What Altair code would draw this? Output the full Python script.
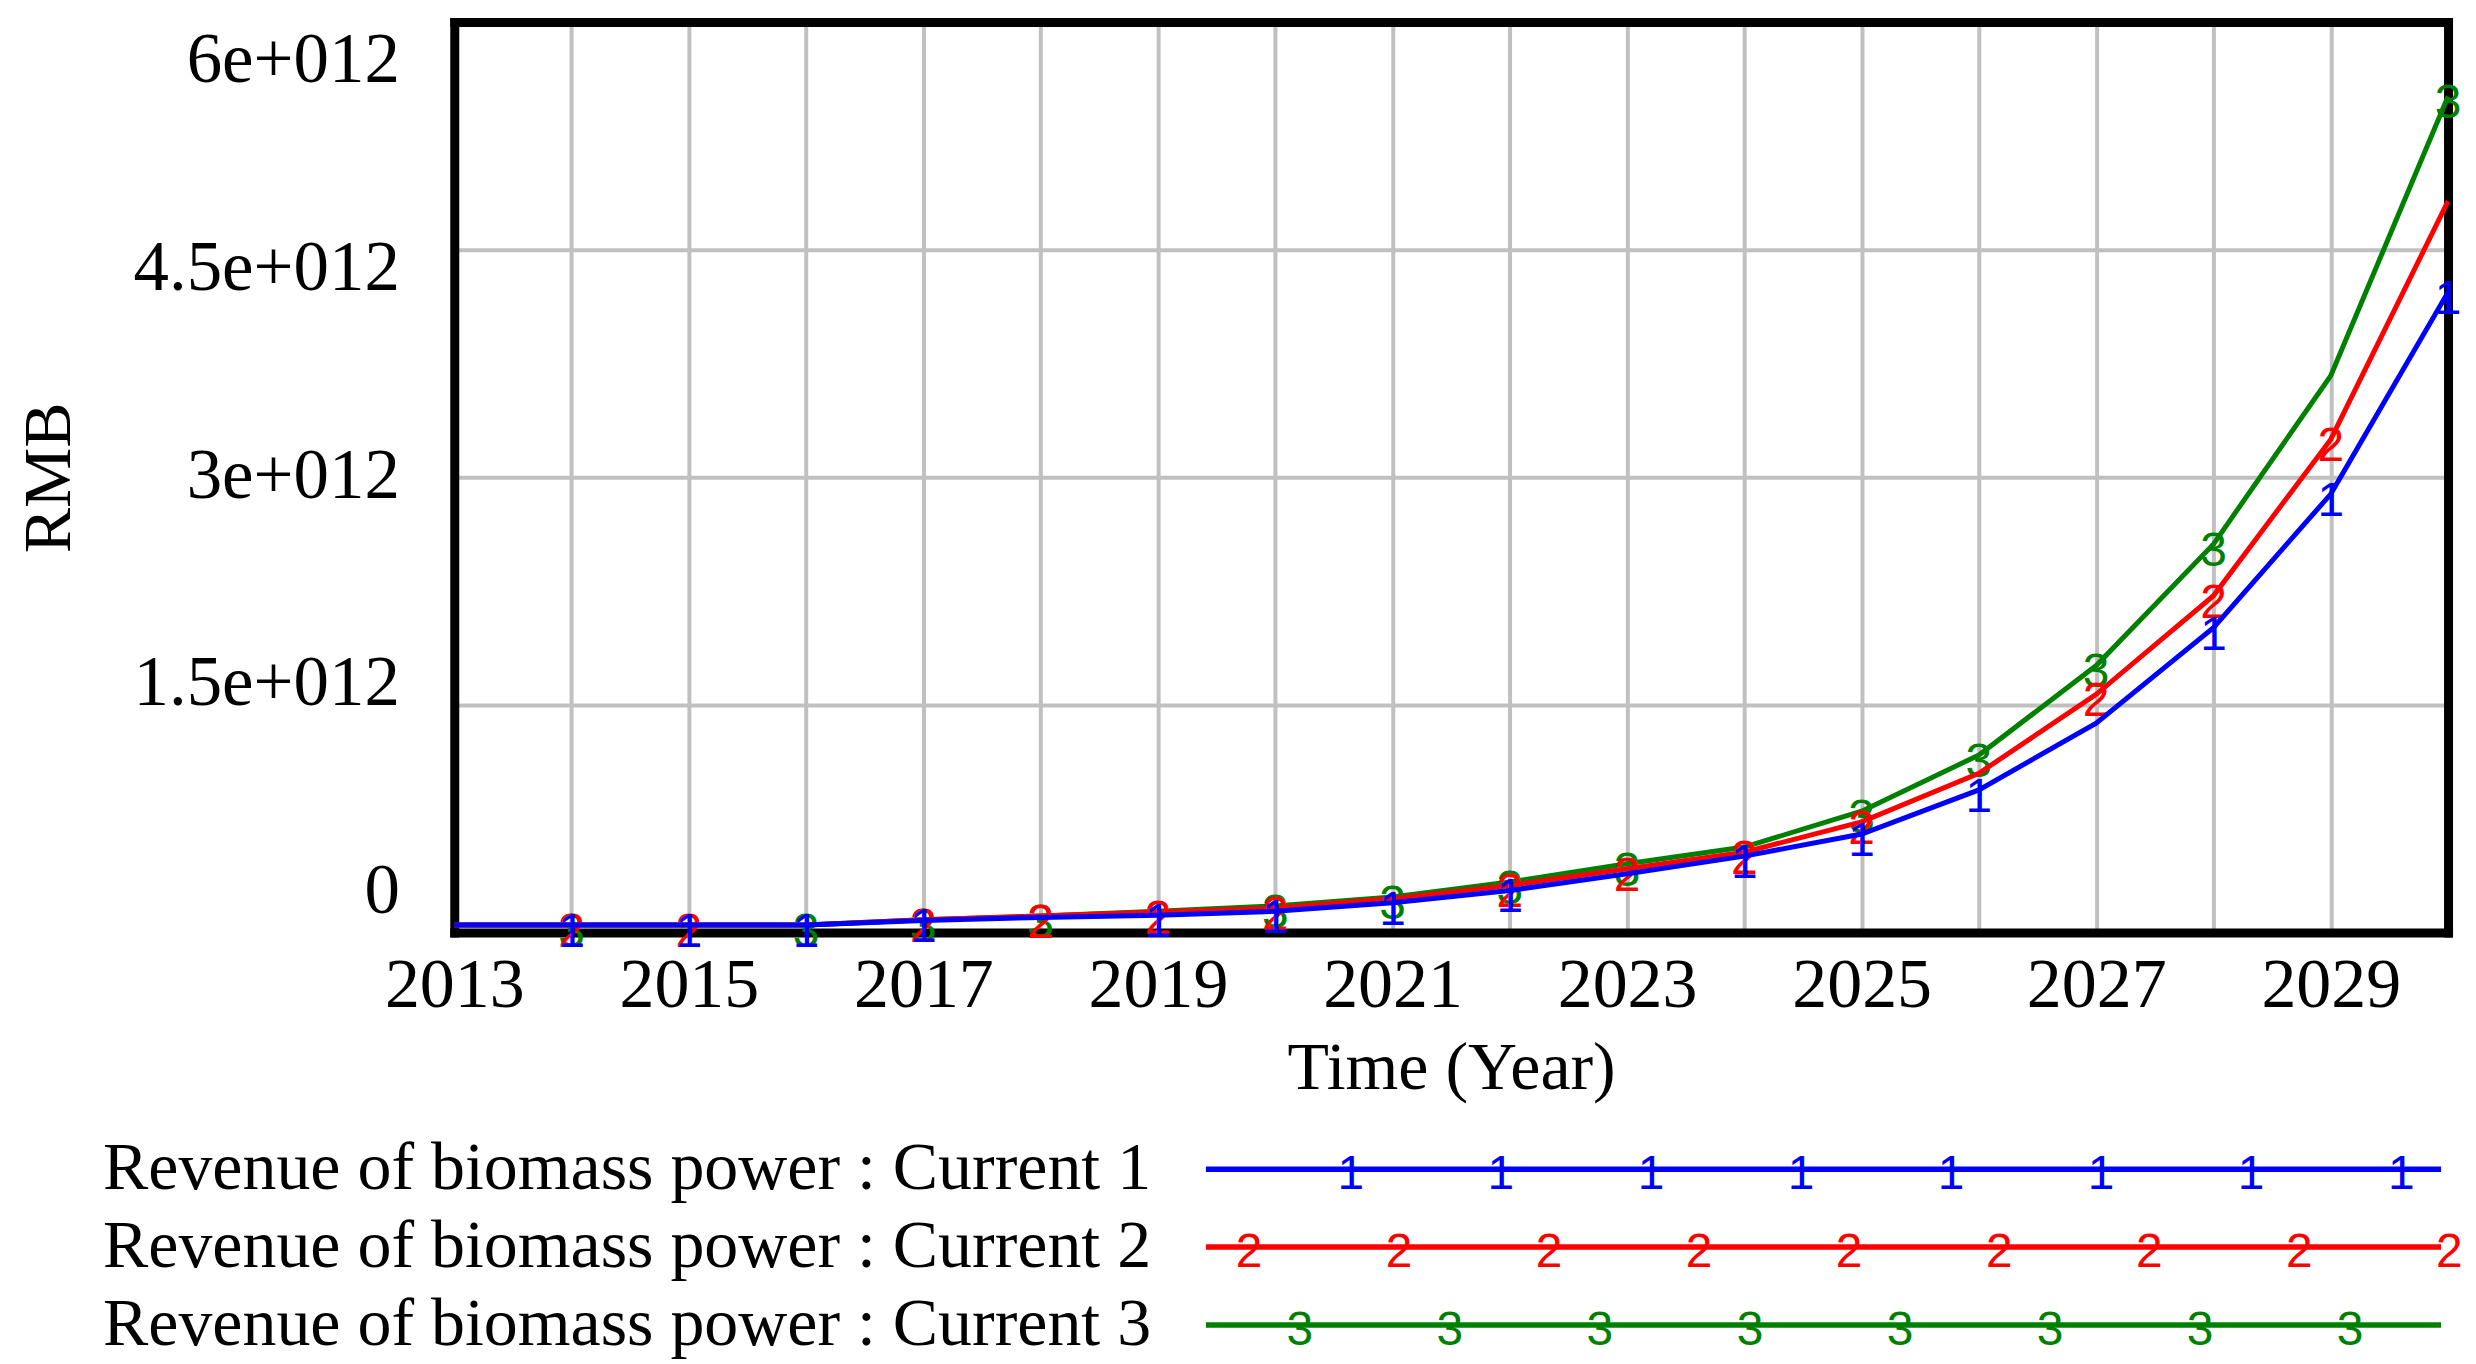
import json
import altair as alt
import pandas as pd

# ---------------- data (values in units of 1e12 RMB) ----------------
years = list(range(2013, 2031))
current1 = [0.05, 0.05, 0.05, 0.05, 0.08, 0.10, 0.115, 0.14, 0.197, 0.278, 0.388, 0.504, 0.65, 0.94, 1.38, 2.01, 2.89, 4.22]
current2 = [0.05, 0.05, 0.05, 0.05, 0.085, 0.11, 0.136, 0.162, 0.224, 0.311, 0.421, 0.53, 0.73, 1.05, 1.57, 2.22, 3.25, 4.82]
current3 = [0.05, 0.05, 0.05, 0.05, 0.085, 0.11, 0.14, 0.176, 0.235, 0.333, 0.454, 0.564, 0.80, 1.17, 1.76, 2.56, 3.67, 5.51]

series_names = [
    "Revenue of biomass power : Current 1",
    "Revenue of biomass power : Current 2",
    "Revenue of biomass power : Current 3",
]
series_digits = ["1", "2", "3"]
series_colors = ["#0000FF", "#FF0000", "#008000"]

marker_years_1 = [2014, 2015, 2016, 2017, 2019, 2020, 2021, 2022, 2024, 2025, 2026, 2028, 2029, 2030]
marker_years_2 = [2014, 2015, 2017, 2018, 2019, 2020, 2022, 2023, 2024, 2025, 2027, 2028, 2029]
marker_years_3 = [2014, 2016, 2017, 2018, 2020, 2021, 2022, 2023, 2025, 2026, 2027, 2028, 2030]

y_tick_values = [0, 1.5e12, 3e12, 4.5e12, 6e12]
y_tick_labels = ["0", "1.5e+012", "3e+012", "4.5e+012", "6e+012"]
x_label_years = [2013, 2015, 2017, 2019, 2021, 2023, 2025, 2027, 2029]

# ---------------- tables ----------------
all_values = [current1, current2, current3]
all_markers = [marker_years_1, marker_years_2, marker_years_3]
rows, mrows = [], []
for name, digit, vals, myears in zip(series_names, series_digits, all_values, all_markers):
    for y, v in zip(years, vals):
        rows.append({"year": y, "value": v * 1e12, "series": name, "digit": digit})
        if y in myears:
            mrows.append({"year": y, "value": v * 1e12, "series": name, "digit": digit})
df = pd.DataFrame(rows)
mdf = pd.DataFrame(mrows)

# ---------------- layout constants ----------------
W, H = 1997, 912
SERIF = "Liberation Serif"
SANS = "Liberation Sans"
GRID = "#C0C0C0"
FRAME = dict(domain=True, domainColor="black", domainWidth=9, domainCap="square")

x_enc = alt.X(
    "year:Q",
    scale=alt.Scale(domain=[2013, 2030], nice=False, zero=False),
    axis=alt.Axis(
        orient="bottom", values=years,
        labelExpr=f"indexof({json.dumps(x_label_years)}, datum.value) >= 0 ? toString(datum.value) : ''",
        grid=True, gridColor=GRID, gridWidth=4,
        ticks=False, **FRAME,
        labelFont=SERIF, labelFontSize=70, labelColor="black",
        labelPadding=19, labelFlush=False, labelOverlap=False,
        title="Time (Year)", titleFont=SERIF, titleFontSize=68,
        titleFontWeight="normal", titleColor="black", titlePadding=14,
    ),
)
y_enc = alt.Y(
    "value:Q",
    scale=alt.Scale(domain=[0, 6e12], nice=False, zero=False),
    axis=alt.Axis(
        orient="right", values=y_tick_values, grid=True, gridColor=GRID, gridWidth=4,
        labels=False, ticks=False, title=None, **FRAME,
    ),
)

layers = []
for idx in [2, 1, 0]:
    name = series_names[idx]
    color = series_colors[idx]
    line = alt.Chart(df[df.series == name]).mark_line(color=color, strokeWidth=5).encode(
        x=x_enc, y=y_enc, order="year:Q"
    )
    marks = alt.Chart(mdf[mdf.series == name]).mark_text(
        color=color, font=SANS, fontSize=48, align="center", baseline="middle", dy=8
    ).encode(x=x_enc, y=y_enc, text="digit:N")
    layers += [line, marks]
data_layer = alt.layer(*layers)

# label-only left axis (Vensim-style spacing of the value labels) + top frame edge
lab_lo, lab_hi = -0.2957e12, 6.281e12
label_layer = alt.Chart(pd.DataFrame({"v": y_tick_values, "t": 0.5})).mark_point(opacity=0).encode(
    x=alt.X(
        "t:Q", scale=alt.Scale(domain=[0, 1], nice=False, zero=False),
        axis=alt.Axis(orient="top", labels=False, ticks=False, grid=False, title=None, **FRAME),
    ),
    y=alt.Y(
        "v:Q",
        scale=alt.Scale(domain=[lab_lo, lab_hi], nice=False, zero=False),
        axis=alt.Axis(
            orient="left", values=y_tick_values,
            labelExpr=f"{json.dumps(y_tick_labels)}[indexof({json.dumps(y_tick_values)}, datum.value)]",
            grid=False, ticks=False, **FRAME,
            labelFont=SERIF, labelFontSize=71, labelColor="black", labelPadding=55,
            labelOverlap=False, labelBaseline="middle", labelLimit=1000,
            maxExtent=1000, minExtent=0,
            title="RMB", titleFont=SERIF, titleFontSize=68, titleFontWeight="normal",
            titleColor="black", titlePadding=50,
        ),
    ),
)

main = alt.layer(data_layer, label_layer).resolve_scale(x="independent", y="independent").properties(
    width=W, height=H
)

# ---------------- custom legend ----------------
LEG_TEXT_X = 0.3495
LEG_LINE = (0.377, 0.9965)
LEG_STEP = 0.07526
LEG_START = [0.4497, 0.3986, 0.4241]
LEG_COUNT = [8, 9, 8]

ldf = pd.DataFrame({"series": series_names, "x0": LEG_LINE[0], "x1": LEG_LINE[1], "tx": LEG_TEXT_X})
lm = []
for name, digit, s, n in zip(series_names, series_digits, LEG_START, LEG_COUNT):
    for i in range(n):
        lm.append({"series": name, "digit": digit, "pos": s + i * LEG_STEP})
lmdf = pd.DataFrame(lm)

lx_scale = alt.Scale(domain=[0, 1], nice=False, zero=False)
ly = alt.Y("series:N", scale=alt.Scale(domain=series_names, type="point", padding=0.5), axis=None)
lcolor = alt.Color("series:N", scale=alt.Scale(domain=series_names, range=series_colors), legend=None)

leg_rule = alt.Chart(ldf).mark_rule(strokeWidth=5.5).encode(
    x=alt.X("x0:Q", scale=lx_scale, axis=None), x2="x1:Q", y=ly, color=lcolor
)
leg_text = alt.Chart(ldf).mark_text(
    align="right", baseline="middle", font=SERIF, fontSize=68, color="black"
).encode(x=alt.X("tx:Q", scale=lx_scale, axis=None), y=ly, text="series:N")
leg_marks = alt.Chart(lmdf).mark_text(
    font=SANS, fontSize=48, align="center", baseline="middle", dy=6
).encode(x=alt.X("pos:Q", scale=lx_scale, axis=None), y=ly, text="digit:N", color=lcolor)

legend = alt.layer(leg_rule, leg_text, leg_marks).properties(width=W, height=234)

chart = alt.vconcat(main, legend, spacing=28).properties(
    padding={"left": 7, "top": 13, "right": 5, "bottom": 5}, background="white"
).configure(font=SERIF).configure_view(strokeWidth=0)

chart.save("out.html", embed_options={"renderer": "svg", "actions": False})
